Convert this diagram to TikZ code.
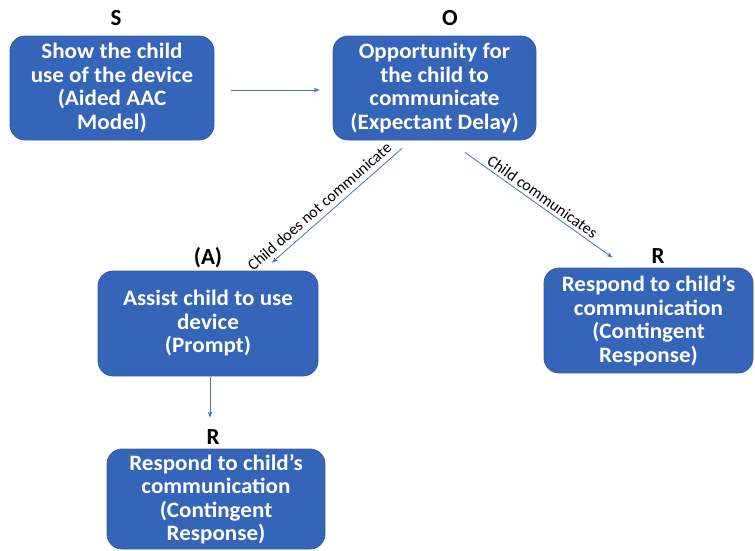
\documentclass[tikz,border=0pt]{standalone}
\usepackage{fontspec}
\setmainfont{Carlito}
\newfontfamily\boxfont{Carlito}[FakeStretch=1.05]
\usetikzlibrary{arrows.meta,calc}
\definecolor{boxfill}{HTML}{3465B9}
\definecolor{boxline}{HTML}{3A5E98}
\definecolor{arrowc}{HTML}{4472C4}
\tikzset{
  blk/.style={rectangle, rounded corners=15pt, fill=boxfill, draw=boxline, line width=0.8pt,
    text=white, font=\boxfont\fontsize{22}{23.5}\selectfont\bfseries, align=center, inner sep=0pt},
  tag/.style={font=\fontsize{23}{24}\selectfont\bfseries, text=black, inner sep=0pt},
  arr/.style={draw=arrowc, line width=0.8pt, -{Stealth[length=6pt,width=4.5pt]}},
  elab/.style={font=\fontsize{16}{17}\selectfont, text=black, inner sep=0pt}
}
\begin{document}
\begin{tikzpicture}[x=1pt,y=-1pt]
\useasboundingbox (0,0) rectangle (755,550);
\node[blk, minimum width=204pt, minimum height=104pt] (s) at (112,88) {Show the child\\use of the device\\(Aided AAC\\Model)};
\node[blk, minimum width=203pt, minimum height=104pt] (o) at (434.5,88) {Opportunity for\\the child to\\communicate\\(Expectant Delay)};
\node[blk, minimum width=220pt, minimum height=105pt] (assist) at (208,323.5) {Assist child to use\\device\\(Prompt)};
\node[blk, minimum width=209pt, minimum height=105pt] (rr) at (648.5,320.5) {Respond to child’s\\communication\\(Contingent\\Response)};
\node[blk, minimum width=218pt, minimum height=100pt] (rb) at (216,499) {Respond to child’s\\communication\\(Contingent\\Response)};
\node[tag] (ts) at (116,18) {S};
\node[tag] (to) at (450,18) {O};
\node[tag] (ta) at (208,258) {(A)};
\node[tag] (tr) at (658,256) {R};
\node[tag] (tb) at (213,437) {R};
\draw[arr, shorten <=17pt, shorten >=13pt] ([yshift=-2pt]s.east) -- ([yshift=-2pt]o.west);
\draw[arr] ([xshift=-32.5pt,yshift=-8pt]o.south) -- node[elab, pos=0.58, sloped, above=5pt] {Child does not communicate} ([xshift=64pt,yshift=8pt]assist.north);
\draw[arr] ([xshift=30.5pt,yshift=-12pt]o.south) -- node[elab, pos=0.49, sloped, above=3pt] {Child communicates} ([xshift=-36pt,yshift=10pt]rr.north);
\draw[arr, shorten <=1pt, shorten >=31pt] ([xshift=2pt]assist.south) -- ([xshift=2pt]assist.south |- rb.north);
\end{tikzpicture}
\end{document}
